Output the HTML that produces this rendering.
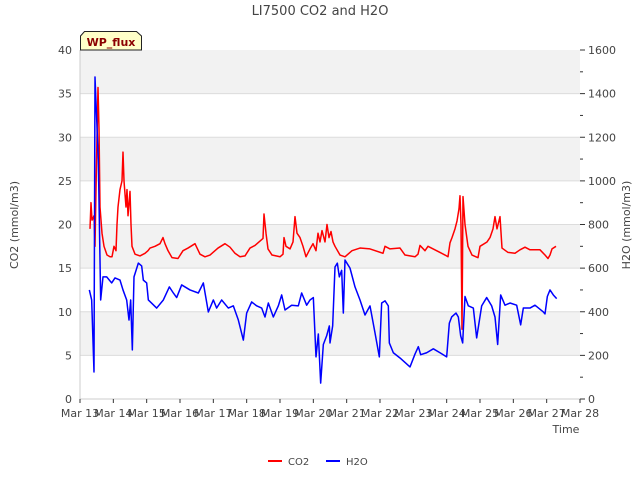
<!DOCTYPE html>
<html><head><meta charset="utf-8"><style>
body{margin:0;background:#fff;font-family:"Liberation Sans","DejaVu Sans",sans-serif}
svg text{font-family:"DejaVu Sans","Liberation Sans",sans-serif;fill:#444}
</style></head><body>
<svg id="chart" width="640" height="480" viewBox="0 0 640 480" xmlns="http://www.w3.org/2000/svg">
<g id="bands"></g>
<g id="axes"></g>
<g id="series"></g>
<text x="320" y="15" text-anchor="middle" font-size="13">LI7500 CO2 and H2O</text>
<text transform="translate(18,225) rotate(-90)" text-anchor="middle" font-size="11">CO2 (mmol/m3)</text>
<text transform="translate(630,225) rotate(-90)" text-anchor="middle" font-size="11">H2O (mmol/m3)</text>
<text x="566" y="433" text-anchor="middle" font-size="11">Time</text>
<g>
<path d="M80.5,50 L80.5,36 L84.5,31.5 L136.5,31.5 L141.5,36 L141.5,50 Z" fill="#ffffc8" stroke="#222" stroke-width="1"/>
<text x="111" y="46" text-anchor="middle" font-size="11" font-weight="bold" style="fill:#8b0000">WP_flux</text>
</g>
<g>
<g><line x1="268" y1="461" x2="282" y2="461" stroke="red" stroke-width="2"/><text x="288" y="465" font-size="10">CO2</text></g>
<g><line x1="326" y1="461" x2="340" y2="461" stroke="blue" stroke-width="2"/><text x="346" y="465" font-size="10">H2O</text></g>
</g>
</svg>
<script>
const xTickLabels=["Mar 13","Mar 14","Mar 15","Mar 16","Mar 17","Mar 18","Mar 19","Mar 20","Mar 21","Mar 22","Mar 23","Mar 24","Mar 25","Mar 26","Mar 27","Mar 28"];
const leftTicks=[0,5,10,15,20,25,30,35,40];
const rightTicks=[0,200,400,600,800,1000,1200,1400,1600];
const co2Days=[0.30,0.33,0.36,0.42,0.45,0.48,0.51,0.54,0.57,0.60,0.66,0.72,0.81,0.90,0.96,1.02,1.08,1.11,1.14,1.20,1.26,1.29,1.32,1.38,1.41,1.44,1.50,1.53,1.56,1.65,1.80,1.95,2.04,2.10,2.25,2.40,2.49,2.55,2.64,2.76,2.94,3.09,3.24,3.45,3.60,3.75,3.90,4.14,4.35,4.50,4.65,4.80,4.95,5.10,5.25,5.40,5.49,5.52,5.58,5.64,5.76,6.00,6.09,6.12,6.18,6.30,6.39,6.45,6.51,6.60,6.69,6.78,6.90,6.99,7.08,7.14,7.20,7.26,7.35,7.41,7.47,7.53,7.59,7.65,7.80,7.95,8.16,8.40,8.70,9.09,9.15,9.30,9.60,9.75,10.05,10.14,10.20,10.35,10.44,10.80,10.95,11.04,11.10,11.16,11.25,11.31,11.37,11.40,11.43,11.46,11.49,11.55,11.64,11.76,11.94,12.00,12.21,12.30,12.39,12.45,12.51,12.60,12.66,12.84,13.05,13.20,13.35,13.50,13.80,13.95,14.04,14.10,14.16,14.28];
const co2Values=[19.5,22.5,20.5,21,17.5,24,30,35.7,31,22,19,17.5,16.5,16.3,16.3,17.5,17,20,22,24,25,28.3,25,22,24,21,23.8,20,17.5,16.6,16.4,16.7,17,17.3,17.5,17.8,18.5,17.8,17,16.2,16.1,17,17.3,17.8,16.6,16.3,16.5,17.3,17.8,17.4,16.7,16.3,16.4,17.3,17.6,18.1,18.4,21.2,19,17.2,16.5,16.3,16.6,18.5,17.5,17.2,18,20.9,19,18.5,17.5,16.3,17.2,17.8,17,19,18,19.3,18,20,18.5,19.2,18,17.5,16.5,16.3,17,17.3,17.2,16.7,17.5,17.2,17.3,16.5,16.3,16.6,17.6,17,17.5,16.8,16.5,16.3,17.9,18.5,19.5,20.4,21.8,23.3,20,8,23.2,20,17.5,16.5,16.2,17.5,18,18.5,19.5,20.9,19.5,20.9,17.3,16.8,16.7,17.1,17.4,17.1,17.1,16.5,16.1,16.5,17.2,17.5];
const h2oDays=[0.28,0.35,0.42,0.45,0.55,0.62,0.69,0.80,0.95,1.05,1.20,1.29,1.40,1.47,1.52,1.57,1.62,1.75,1.85,1.90,2.00,2.05,2.30,2.50,2.68,2.80,2.90,3.05,3.30,3.55,3.70,3.85,4.00,4.10,4.25,4.45,4.60,4.75,4.90,5.00,5.15,5.30,5.45,5.55,5.65,5.80,5.95,6.05,6.15,6.35,6.55,6.65,6.80,6.90,7.00,7.08,7.15,7.22,7.30,7.40,7.48,7.50,7.58,7.65,7.72,7.78,7.85,7.90,7.95,8.10,8.25,8.40,8.55,8.70,8.85,8.98,9.05,9.15,9.25,9.28,9.40,9.60,9.90,10.05,10.15,10.22,10.40,10.60,10.80,11.00,11.08,11.15,11.28,11.35,11.42,11.48,11.55,11.65,11.80,11.90,12.05,12.20,12.35,12.45,12.53,12.62,12.75,12.90,13.10,13.22,13.30,13.50,13.65,13.90,13.95,14.02,14.10,14.20,14.30];
const h2oValues=[500,454,124,1476,1096,454,560,560,532,555,545,500,454,362,454,225,560,623,610,545,532,454,417,454,514,486,465,523,500,486,532,399,454,417,454,417,427,362,270,394,445,427,417,376,440,376,427,477,408,430,427,486,430,454,465,193,298,73,250,290,335,257,335,605,623,560,590,394,637,600,514,454,385,427,303,193,440,450,427,257,212,188,147,206,240,203,212,230,212,193,348,376,394,376,290,257,470,427,417,280,427,465,427,376,250,477,430,440,430,340,417,417,430,399,390,470,500,477,460];

const NS="http://www.w3.org/2000/svg";
const L=80,R=580,T=50,B=399;
const xScale=d=>L+d*(R-L)/15;
const yLeft=v=>B-v*(B-T)/40;
const yRight=v=>B-v*(B-T)/1600;
function mk(tag,attrs,parent){const e=document.createElementNS(NS,tag);for(const k in attrs)e.setAttribute(k,attrs[k]);parent.appendChild(e);return e;}
const bands=document.getElementById('bands'),axes=document.getElementById('axes'),series=document.getElementById('series');
mk('rect',{x:L,y:T,width:R-L,height:B-T,fill:'#fff'},bands);
for(let i=0;i<leftTicks.length-1;i++){
  if(i%2===1){const r=mk('rect',{x:L,y:yLeft(leftTicks[i+1]),width:R-L,height:yLeft(leftTicks[i])-yLeft(leftTicks[i+1]),fill:'#f2f2f2'},bands);
  
  }
}
leftTicks.forEach(v=>{
  const y=yLeft(v);
  if(v>0&&v<40){const g=mk('line',{x1:L,x2:R,y1:y,y2:y,stroke:'#dcdcdc','stroke-width':1},axes);
  
  }
  const t=mk('text',{x:72,y:y+4,'text-anchor':'end','font-size':11},axes);t.textContent=v;
  
  
});
rightTicks.forEach(v=>{
  const y=yRight(v);
  mk('line',{x1:R,x2:R+5,y1:y,y2:y,stroke:'#333'},axes);
  const t=mk('text',{x:588,y:y+4,'font-size':11},axes);t.textContent=v;
  
  
  if(v<1600){const ym=yRight(v+100);mk('line',{x1:R,x2:R+3,y1:ym,y2:ym,stroke:'#333'},axes);}
});
mk('line',{x1:L,x2:L,y1:T,y2:B,stroke:'#ccc'},axes);
mk('line',{x1:L,x2:R,y1:B,y2:B,stroke:'#ccc'},axes);
xTickLabels.forEach((s,i)=>{
  const x=xScale(i);
  mk('line',{x1:x,x2:x,y1:B,y2:B+4,stroke:'#333'},axes);
  const t=mk('text',{x:x,y:417,'text-anchor':'middle','font-size':11},axes);t.textContent=s;
  
  
});
const co2=mk('polyline',{fill:'none',stroke:'red','stroke-width':1.5,'stroke-linejoin':'round',points:co2Days.map((d,i)=>xScale(d)+','+yLeft(co2Values[i])).join(' ')},series);


const h2o=mk('polyline',{fill:'none',stroke:'blue','stroke-width':1.5,'stroke-linejoin':'round',points:h2oDays.map((d,i)=>xScale(d)+','+yRight(h2oValues[i])).join(' ')},series);


</script>
</body></html>
